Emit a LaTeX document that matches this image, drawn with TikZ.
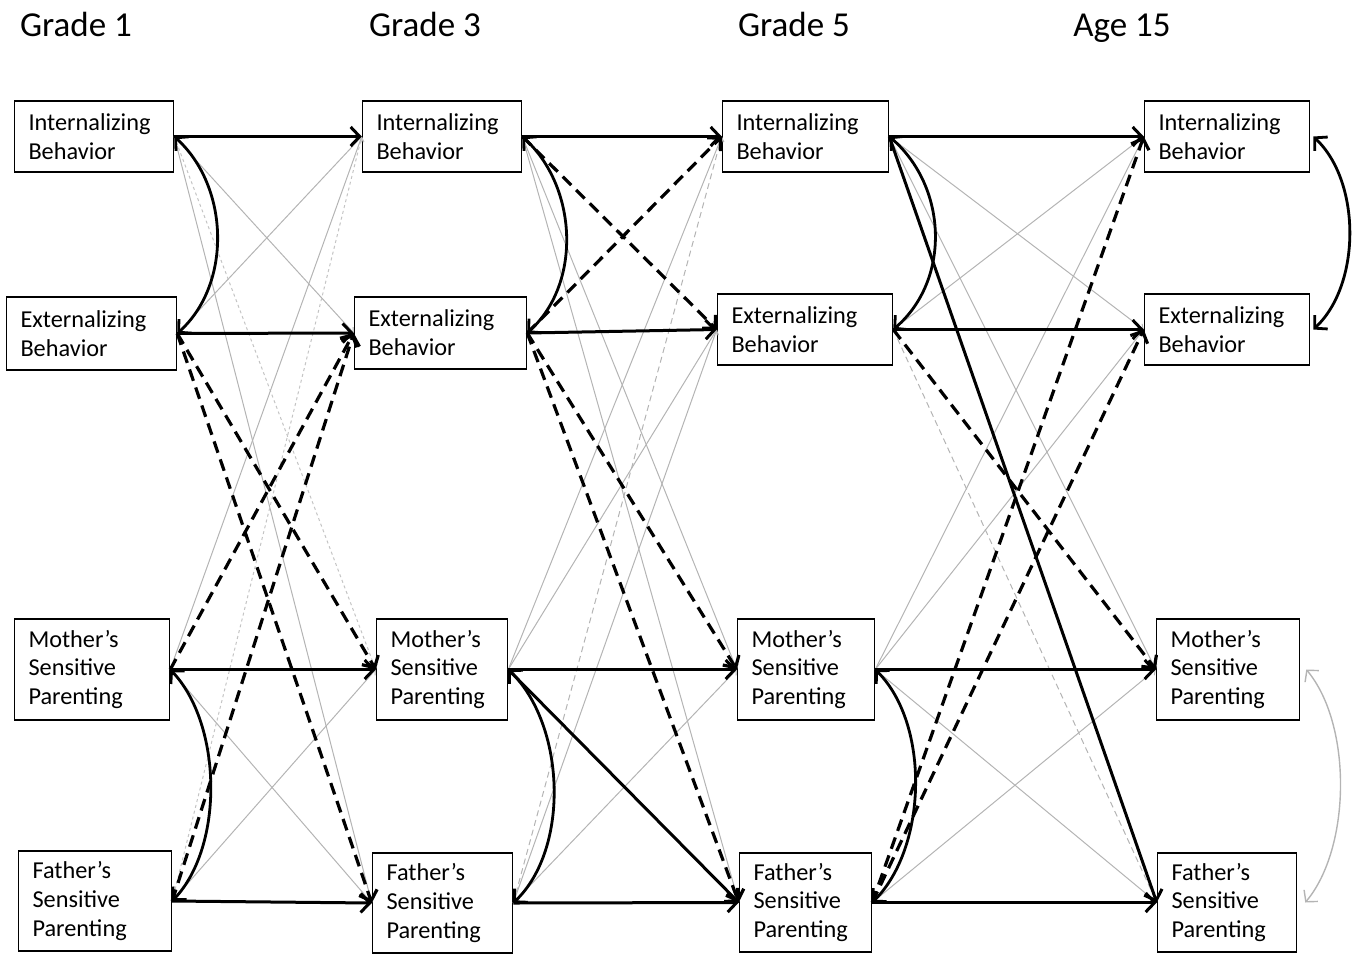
\documentclass[tikz,border=0pt]{standalone}
\usepackage{fontspec}
\setmainfont{Carlito}
\usetikzlibrary{arrows.meta}
\definecolor{lg}{HTML}{B4B4B4}
\definecolor{lgd}{HTML}{C4C4C4}
\begin{document}
\begin{tikzpicture}[x=1pt,y=-1pt,
  box/.style={draw, line width=1.5pt, align=left, inner xsep=14pt, inner ysep=0pt,
    font=\fontsize{24.3}{28.8}\selectfont},
  title/.style={font=\fontsize{35}{40}\selectfont, inner sep=0pt, anchor=base},
  ar/.style={line width=3pt, -{Straight Barb[length=9pt,width=19pt]}},
  cor/.style={line width=2.8pt, {Straight Barb[length=9pt,width=19pt]}-{Straight Barb[length=9pt,width=19pt]}},
  dsh/.style={line width=3.2pt, dash pattern=on 12pt off 7pt, -{Straight Barb[length=9pt,width=19pt]}},
  gr/.style={line width=1pt, color=lg, -{Straight Barb[length=4pt,width=7pt]}},
  grd/.style={gr, dash pattern=on 6pt off 4pt},
  grdot/.style={gr, color=lgd, dash pattern=on 3pt off 3pt},
  gcor/.style={line width=1.4pt, color=lg, {Straight Barb[length=8pt,width=18pt]}-{Straight Barb[length=8pt,width=18pt]}}
]
\useasboundingbox (0,0) rectangle (1355,954);

% titles
\node[title] (t1) at (76,36) {Grade 1};
\node[title] (t3) at (425,36) {Grade 3};
\node[title] (t5) at (794,36) {Grade 5};
\node[title] (t15) at (1122,36) {Age 15};

% wave 1
\node[box, text width=131pt, minimum height=71pt] (I1) at (94,136.5) {Internalizing\\Behavior};
\node[box, text width=142pt, minimum height=73pt] (E1) at (91.5,333.5) {Externalizing\\Behavior};
\node[box, text width=127pt, minimum height=101pt] (M1) at (92,669.5) {Mother’s\\Sensitive\\Parenting};
\node[box, text width=125pt, minimum height=100pt] (F1) at (95,901) {Father’s\\Sensitive\\Parenting};
% wave 2
\node[box, text width=131pt, minimum height=71pt] (I3) at (442,136.5) {Internalizing\\Behavior};
\node[box, text width=144pt, minimum height=72pt] (E3) at (440.5,333) {Externalizing\\Behavior};
\node[box, text width=103pt, minimum height=101pt] (M3) at (442,669.5) {Mother’s\\Sensitive\\Parenting};
\node[box, text width=112pt, minimum height=100pt] (F3) at (442.5,903) {Father’s\\Sensitive\\Parenting};
% wave 3
\node[box, text width=138pt, minimum height=71pt] (I5) at (805.5,136.5) {Internalizing\\Behavior};
\node[box, text width=147pt, minimum height=71pt] (E5) at (805,329.5) {Externalizing\\Behavior};
\node[box, text width=109pt, minimum height=101pt] (M5) at (806,669.5) {Mother’s\\Sensitive\\Parenting};
\node[box, text width=104pt, minimum height=99pt] (F5) at (805.5,902.5) {Father’s\\Sensitive\\Parenting};
% wave 4
\node[box, text width=137pt, minimum height=71pt] (I15) at (1227,136.5) {Internalizing\\Behavior};
\node[box, text width=137pt, minimum height=71pt] (E15) at (1227,329.5) {Externalizing\\Behavior};
\node[box, text width=115pt, minimum height=101pt] (M15) at (1228,669.5) {Mother’s\\Sensitive\\Parenting};
\node[box, text width=111pt, minimum height=99pt] (F15) at (1227,902.5) {Father’s\\Sensitive\\Parenting};

% ---- wave 1 -> wave 2
\draw[gr] (I1.east) -- (E3.west);
\draw[gr] (E1.east) -- (I3.west);
\draw[grdot] (I1.east) -- (M3.west);
\draw[gr] (I1.east) -- (F3.west);
\draw[gr] (M1.east) -- (I3.west);
\draw[grdot] (F1.east) -- (I3.west);
\draw[gr] (M1.east) -- (F3.west);
\draw[gr] (F1.east) -- (M3.west);
\draw[dsh] (E1.east) -- (M3.west);
\draw[dsh] (E1.east) -- (F3.west);
\draw[dsh] (M1.east) -- (E3.west);
\draw[dsh] (F1.east) -- (E3.west);
\draw[ar] (I1.east) -- (I3.west);
\draw[ar] (E1.east) -- (E3.west);
\draw[ar] (M1.east) -- (M3.west);
\draw[ar] (F1.east) -- (F3.west);

% ---- wave 2 -> wave 3
\draw[gr] (I3.east) -- (M5.west);
\draw[gr] (I3.east) -- (F5.west);
\draw[gr] (M3.east) -- (I5.west);
\draw[grd] (F3.east) -- (I5.west);
\draw[gr] (M3.east) -- (E5.west);
\draw[gr] (F3.east) -- (E5.west);
\draw[gr] (F3.east) -- (M5.west);
\draw[dsh] (I3.east) -- (E5.west);
\draw[dsh] (E3.east) -- (I5.west);
\draw[dsh] (E3.east) -- (M5.west);
\draw[dsh] (E3.east) -- (F5.west);
\draw[ar] (M3.east) -- (F5.west);
\draw[ar] (I3.east) -- (I5.west);
\draw[ar] (E3.east) -- (E5.west);
\draw[ar] (M3.east) -- (M5.west);
\draw[ar] (F3.east) -- (F5.west);

% ---- wave 3 -> wave 4
\draw[gr] (I5.east) -- (E15.west);
\draw[gr] (E5.east) -- (I15.west);
\draw[gr] (I5.east) -- (M15.west);
\draw[gr] (M5.east) -- (I15.west);
\draw[gr] (M5.east) -- (E15.west);
\draw[grd] (E5.east) -- (F15.west);
\draw[gr] (M5.east) -- (F15.west);
\draw[gr] (F5.east) -- (M15.west);
\draw[dsh] (F5.east) -- (I15.west);
\draw[dsh] (F5.east) -- (E15.west);
\draw[dsh] (E5.east) -- (M15.west);
\draw[ar] (I5.east) -- (F15.west);
\draw[ar] (I5.east) -- (I15.west);
\draw[ar] (E5.east) -- (E15.west);
\draw[ar] (M5.east) -- (M15.west);
\draw[ar] (F5.east) -- (F15.west);

% ---- within-wave correlations
\draw[cor] (I1.east) .. controls +(55,50) and +(55,-50) .. (E1.east);
\draw[cor] (M1.east) .. controls +(52,55) and +(52,-55) .. (F1.east);
\draw[cor] (I3.east) .. controls +(55,50) and +(55,-50) .. (E3.east);
\draw[cor] (M3.east) .. controls +(57,55) and +(57,-55) .. (F3.east);
\draw[cor] (I5.east) .. controls +(58,50) and +(58,-50) .. (E5.east);
\draw[cor] (M5.east) .. controls +(55,55) and +(55,-55) .. (F5.east);
\draw[cor] ([xshift=3pt]I15.east) .. controls +(48,45) and +(48,-45) .. ([xshift=3pt]E15.east);
\draw[gcor] ([xshift=6pt]M15.east) .. controls +(46,55) and +(46,-55) .. ([xshift=8pt]F15.east);
\end{tikzpicture}
\end{document}
